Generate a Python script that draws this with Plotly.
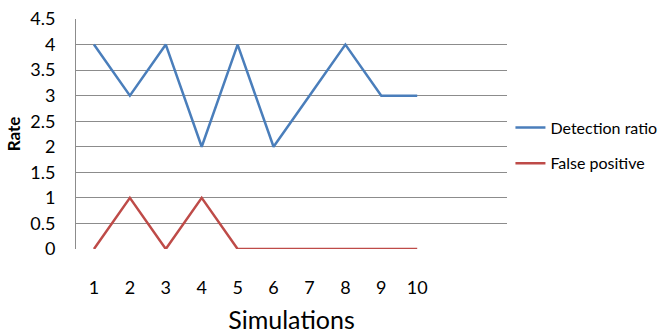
import plotly.graph_objects as go

simulations = [1, 2, 3, 4, 5, 6, 7, 8, 9, 10]
detection_ratio = [4, 3, 4, 2, 4, 2, 3, 4, 3, 3]
false_positive = [0, 1, 0, 1, 0, 0, 0, 0, 0, 0]
y_ticks = [0, 0.5, 1, 1.5, 2, 2.5, 3, 3.5, 4, 4.5]
y_tick_labels = ["0", "0.5", "1", "1.5", "2", "2.5", "3", "3.5", "4", "4.5"]

FONT = "Lato"

fig = go.Figure()
fig.add_trace(go.Scatter(x=simulations, y=detection_ratio, mode="lines",
                         name="Detection ratio", legendgroup="a",
                         line=dict(color="#4A7EBB", width=2.5)))
fig.add_trace(go.Scatter(x=simulations, y=false_positive, mode="lines",
                         name="False positive", legendgroup="b",
                         line=dict(color="#BE4B48", width=2.5)))

fig.update_layout(
    width=664, height=336,
    margin=dict(l=76, r=157, t=19, b=87, autoexpand=False),
    paper_bgcolor="white", plot_bgcolor="white",
    font=dict(family=FONT, color="#000000", size=18),
    showlegend=True,
    legend=dict(x=1.008, y=0.45, xanchor="left", yanchor="middle",
                font=dict(family=FONT, size=16, color="#000000"),
                itemwidth=30, tracegroupgap=12, bgcolor="rgba(0,0,0,0)"),
    xaxis=dict(range=[0.5, 12.5], tickmode="array", tickvals=simulations,
               ticktext=[str(s) for s in simulations],
               showgrid=False, zeroline=False, showline=False,
               ticks="", ticklabelstandoff=26,
               title=dict(text="Simulations", font=dict(family=FONT, size=25),
                          standoff=14)),
    yaxis=dict(range=[0, 4.5], tickmode="array", tickvals=y_ticks,
               ticktext=y_tick_labels,
               showgrid=True, gridcolor="#8C8C8C", gridwidth=1,
               zeroline=False, showline=True, linecolor="#8C8C8C", linewidth=1,
               ticks="", ticklabelstandoff=16,
               title=dict(text="<b>Rate</b>", font=dict(family=FONT, size=17),
                          standoff=5)),
)

fig.write_html("out.html")
